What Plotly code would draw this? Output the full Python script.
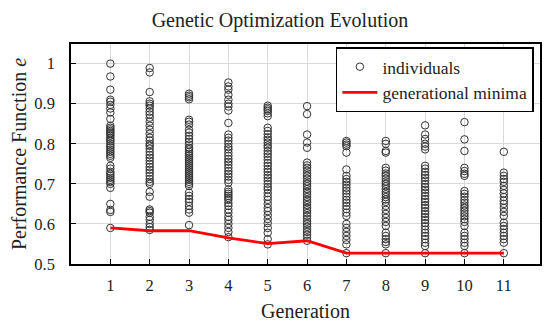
import plotly.graph_objects as go

generations = list(range(1, 12))
gen_values = [
    [1.0, 0.968, 0.935, 0.91, 0.905, 0.897, 0.888, 0.878, 0.862, 0.845, 0.84, 0.836, 0.832, 0.828, 0.824, 0.82, 0.815, 0.81, 0.806, 0.80, 0.795, 0.79, 0.785, 0.78, 0.775, 0.77, 0.765, 0.745, 0.738, 0.73, 0.725, 0.72, 0.715, 0.71, 0.705, 0.70, 0.69, 0.65, 0.635, 0.63, 0.59],
    [0.989, 0.978, 0.929, 0.906, 0.9, 0.895, 0.888, 0.88, 0.873, 0.865, 0.855, 0.845, 0.835, 0.825, 0.815, 0.808, 0.80, 0.795, 0.788, 0.78, 0.772, 0.765, 0.758, 0.75, 0.742, 0.735, 0.728, 0.72, 0.712, 0.705, 0.70, 0.68, 0.668, 0.636, 0.632, 0.628, 0.618, 0.61, 0.60, 0.592, 0.585],
    [0.925, 0.92, 0.916, 0.911, 0.86, 0.855, 0.848, 0.835, 0.828, 0.82, 0.812, 0.805, 0.798, 0.79, 0.786, 0.78, 0.775, 0.77, 0.765, 0.76, 0.755, 0.75, 0.745, 0.74, 0.735, 0.73, 0.725, 0.72, 0.715, 0.71, 0.705, 0.70, 0.695, 0.678, 0.67, 0.662, 0.655, 0.645, 0.636, 0.628, 0.597],
    [0.953, 0.943, 0.935, 0.922, 0.91, 0.9, 0.893, 0.883, 0.852, 0.823, 0.815, 0.808, 0.8, 0.792, 0.786, 0.778, 0.77, 0.762, 0.755, 0.748, 0.74, 0.732, 0.725, 0.718, 0.71, 0.703, 0.686, 0.68, 0.675, 0.67, 0.665, 0.66, 0.652, 0.645, 0.636, 0.628, 0.618, 0.61, 0.6, 0.59, 0.58, 0.567],
    [0.895, 0.89, 0.886, 0.882, 0.876, 0.869, 0.84, 0.832, 0.824, 0.816, 0.81, 0.803, 0.796, 0.79, 0.782, 0.775, 0.768, 0.76, 0.752, 0.745, 0.737, 0.73, 0.722, 0.715, 0.708, 0.70, 0.692, 0.686, 0.677, 0.668, 0.66, 0.65, 0.64, 0.632, 0.622, 0.612, 0.602, 0.59, 0.578, 0.562, 0.549],
    [0.894, 0.874, 0.823, 0.803, 0.79, 0.753, 0.746, 0.74, 0.733, 0.726, 0.72, 0.713, 0.706, 0.70, 0.694, 0.687, 0.68, 0.674, 0.667, 0.66, 0.654, 0.647, 0.64, 0.634, 0.627, 0.62, 0.613, 0.606, 0.60, 0.593, 0.586, 0.58, 0.573, 0.566, 0.558],
    [0.807, 0.803, 0.798, 0.794, 0.778, 0.736, 0.72, 0.712, 0.705, 0.698, 0.69, 0.683, 0.676, 0.668, 0.66, 0.653, 0.645, 0.637, 0.628, 0.62, 0.60, 0.59, 0.58, 0.57, 0.56, 0.549, 0.527],
    [0.807, 0.80, 0.782, 0.778, 0.74, 0.733, 0.726, 0.72, 0.713, 0.706, 0.70, 0.694, 0.687, 0.68, 0.674, 0.667, 0.661, 0.655, 0.645, 0.635, 0.625, 0.615, 0.605, 0.595, 0.578, 0.57, 0.562, 0.555, 0.549, 0.527],
    [0.846, 0.823, 0.812, 0.80, 0.793, 0.786, 0.745, 0.738, 0.73, 0.722, 0.715, 0.708, 0.70, 0.692, 0.685, 0.678, 0.67, 0.662, 0.655, 0.647, 0.64, 0.632, 0.625, 0.617, 0.61, 0.602, 0.594, 0.586, 0.578, 0.57, 0.562, 0.553, 0.545, 0.527],
    [0.854, 0.811, 0.782, 0.74, 0.732, 0.725, 0.72, 0.682, 0.675, 0.668, 0.66, 0.653, 0.646, 0.64, 0.633, 0.626, 0.619, 0.612, 0.605, 0.595, 0.578, 0.57, 0.562, 0.553, 0.545, 0.527],
    [0.78, 0.728, 0.72, 0.712, 0.705, 0.695, 0.685, 0.676, 0.667, 0.658, 0.65, 0.64, 0.63, 0.62, 0.603, 0.595, 0.587, 0.578, 0.57, 0.562, 0.553, 0.527],
]
minima = [0.59, 0.583, 0.583, 0.565, 0.551, 0.558, 0.527, 0.527, 0.527, 0.527, 0.527]
y_ticks = [0.5, 0.6, 0.7, 0.8, 0.9, 1.0]
y_tick_labels = ["0.5", "0.6", "0.7", "0.8", "0.9", "1"]

xs, ys = [], []
for g, vals in zip(generations, gen_values):
    xs += [g] * len(vals)
    ys += vals

FONT = "Liberation Serif"

fig = go.Figure()
fig.add_trace(go.Scatter(
    x=xs, y=ys, mode="markers", name="individuals", legendgroup="a",
    marker=dict(symbol="circle-open", size=7.5, color="#333333", line=dict(width=1)),
))
fig.add_trace(go.Scatter(
    x=generations, y=minima, mode="lines", name="generational minima", legendgroup="b",
    line=dict(color="#ff0000", width=2.8),
))

fig.update_layout(
    width=550, height=325,
    margin=dict(l=63, r=18, t=36, b=69, autoexpand=False),
    paper_bgcolor="white", plot_bgcolor="white",
    font=dict(family=FONT, size=16.5, color="#222222"),
    title=dict(text="Genetic Optimization Evolution", x=0.4945, xanchor="center",
               y=0.985, yanchor="top", font=dict(family=FONT, size=20, color="#222222")),
    legend=dict(x=0.987, y=0.985, xanchor="right", yanchor="top",
                bgcolor="white", bordercolor="black", borderwidth=1.5,
                font=dict(family=FONT, size=17.5), tracegroupgap=0, itemwidth=35),
    xaxis=dict(range=[0, 11.92], tickvals=generations, ticks="inside", ticklen=5,
               tickcolor="black", showgrid=True, gridcolor="#d9d9d9", gridwidth=1,
               showline=True, linecolor="black", linewidth=1.5, mirror=True,
               zeroline=False, title=dict(text="Generation", standoff=10),
               ticklabelstandoff=5, automargin=False),
    yaxis=dict(range=[0.5, 1.049], tickvals=y_ticks, ticktext=y_tick_labels,
               ticks="inside", ticklen=5, tickcolor="black",
               showgrid=True, gridcolor="#d9d9d9", gridwidth=1,
               showline=True, linecolor="black", linewidth=1.5, mirror=True,
               zeroline=False, ticklabelstandoff=11, automargin=False,
               title=dict(text="Performance Function <i>e</i>", standoff=8)),
)

fig.write_html("out.html")
